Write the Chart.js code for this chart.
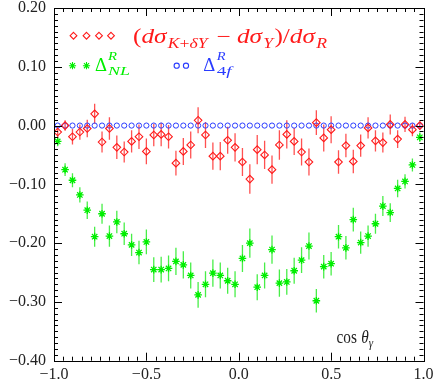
<!DOCTYPE html>
<html>
<head>
<meta charset="utf-8">
<script src="https://cdn.jsdelivr.net/npm/chart.js@4.4.0/dist/chart.umd.min.js"></script>
<style>
  html, body { margin: 0; padding: 0; background: #fff; }
  canvas { display: block; }
</style>
</head>
<body>
<canvas id="chart" width="436" height="382"></canvas>
<script>
// ==== Données
const cosBins = [
  -0.98, -0.94, -0.90, -0.86, -0.82, -0.78, -0.74, -0.70, -0.66, -0.62,
  -0.58, -0.54, -0.50, -0.46, -0.42, -0.38, -0.34, -0.30, -0.26, -0.22,
  -0.18, -0.14, -0.10, -0.06, -0.02, 0.02, 0.06, 0.10, 0.14, 0.18,
  0.22, 0.26, 0.30, 0.34, 0.38, 0.42, 0.46, 0.50, 0.54, 0.58,
  0.62, 0.66, 0.70, 0.74, 0.78, 0.82, 0.86, 0.90, 0.94, 0.98
];

// (dσ_{K+δY} − dσ_Y)/dσ_R
const ratioVals = [
  -0.011, 0.000, -0.019, -0.011, -0.005, 0.020, -0.028, -0.005, -0.037, -0.045,
  -0.027, -0.019, -0.044, -0.016, -0.015, -0.019, -0.064, -0.044, -0.033, 0.009,
  -0.016, -0.052, -0.052, -0.025, -0.037, -0.062, -0.091, -0.041, -0.050, -0.075,
  -0.033, -0.015, -0.027, -0.045, -0.062, 0.005, -0.021, -0.007, -0.062, -0.034,
  -0.061, -0.034, -0.004, -0.026, -0.029, 0.002, -0.023, 0.002, -0.007, 0.000
];
const ratioErr = [
  0.010, 0.009, 0.013, 0.013, 0.015, 0.017, 0.018, 0.019, 0.020, 0.018,
  0.019, 0.021, 0.022, 0.019, 0.020, 0.020, 0.021, 0.023, 0.023, 0.022,
  0.022, 0.023, 0.024, 0.023, 0.024, 0.024, 0.025, 0.025, 0.024, 0.024,
  0.025, 0.024, 0.023, 0.023, 0.023, 0.021, 0.023, 0.023, 0.020, 0.020,
  0.020, 0.019, 0.018, 0.018, 0.017, 0.017, 0.015, 0.013, 0.011, 0.007
];

// Δ^R_NL
const nlVals = [
  -0.027, -0.075, -0.093, -0.118, -0.144, -0.189, -0.150, -0.188, -0.164, -0.184,
  -0.203, -0.216, -0.198, -0.245, -0.245, -0.243, -0.231, -0.237, -0.255, -0.288,
  -0.270, -0.251, -0.255, -0.264, -0.270, -0.226, -0.200, -0.275, -0.255, -0.211,
  -0.268, -0.266, -0.247, -0.229, -0.205, -0.298, -0.240, -0.235, -0.189, -0.208,
  -0.160, -0.199, -0.188, -0.167, -0.137, -0.148, -0.107, -0.095, -0.067, -0.020
];
const nlErr = [
  0.008, 0.011, 0.012, 0.013, 0.015, 0.017, 0.017, 0.018, 0.019, 0.019,
  0.019, 0.020, 0.021, 0.021, 0.022, 0.022, 0.023, 0.023, 0.022, 0.022,
  0.022, 0.023, 0.022, 0.022, 0.022, 0.023, 0.025, 0.022, 0.022, 0.024,
  0.023, 0.022, 0.022, 0.022, 0.023, 0.020, 0.020, 0.020, 0.020, 0.020,
  0.020, 0.019, 0.018, 0.017, 0.017, 0.016, 0.015, 0.012, 0.011, 0.008
];

// Δ^R_4f
const fourFVals = [
  0, 0, 0, 0, 0, 0, 0, 0, 0, 0,
  0, 0, 0, 0, 0, 0, 0, 0, 0, 0,
  0, 0, 0, 0, 0, 0, 0, 0, 0, 0,
  0, 0, 0, 0, 0, 0, 0, 0, 0, 0,
  0, 0, 0, 0, 0, 0, 0, 0, 0, 0
];

const RED = "#ff1a1a";
const GREEN = "#00ee00";
const BLUE = "#2a3cff";
const FONT = "Liberation Serif";

// ==== Helpers
function fmt(v, d) {
  if (Math.abs(v) < 1e-9) v = 0;
  return (v < 0 ? "\u2212" : "") + Math.abs(v).toFixed(d);
}

function points(vals) {
  return cosBins.map((x, i) => ({ x: x, y: vals[i] }));
}

function setFont(ctx, p) {
  ctx.font = (p.it ? "italic " : "") + p.s + "px '" + FONT + "'";
}

// morceaux de texte (italique / indices), étirés pour tenir entre x0 et x1
function drawRuns(ctx, x0, x1, y, parts) {
  let w = 0;
  parts.forEach(p => { setFont(ctx, p); w += ctx.measureText(p.t).width + (p.sp || 0); });
  ctx.save();
  ctx.translate(x0, y);
  ctx.scale((x1 - x0) / w, 1);
  let x = 0;
  parts.forEach(p => {
    setFont(ctx, p);
    ctx.fillText(p.t, x, p.dy || 0);
    x += ctx.measureText(p.t).width + (p.sp || 0);
  });
  ctx.restore();
}

function marker(ctx, style, x, y, r, color) {
  ctx.save();
  ctx.strokeStyle = color;
  ctx.lineWidth = 1.1;
  ctx.beginPath();
  if (style === "diamond") {
    ctx.moveTo(x, y - r); ctx.lineTo(x + r, y); ctx.lineTo(x, y + r); ctx.lineTo(x - r, y); ctx.closePath();
  } else if (style === "circle") {
    ctx.arc(x, y, r, 0, Math.PI * 2);
  } else {
    for (let k = 0; k < 4; k++) {
      const a = k * Math.PI / 4;
      ctx.moveTo(x - r * Math.cos(a), y - r * Math.sin(a));
      ctx.lineTo(x + r * Math.cos(a), y + r * Math.sin(a));
    }
  }
  ctx.stroke();
  ctx.restore();
}

// ==== Plugins
const errorBars = {
  id: "errorBars",
  beforeDatasetsDraw(chart) {
    const { ctx, scales: { y } } = chart;
    chart.data.datasets.forEach((ds, i) => {
      if (!ds.err) return;
      const meta = chart.getDatasetMeta(i);
      ctx.save();
      ctx.strokeStyle = ds.errColor;
      ctx.lineWidth = 1.3;
      ctx.beginPath();
      meta.data.forEach((pt, j) => {
        const v = ds.data[j].y;
        ctx.moveTo(pt.x, y.getPixelForValue(v + ds.err[j]));
        ctx.lineTo(pt.x, y.getPixelForValue(v - ds.err[j]));
      });
      ctx.stroke();
      ctx.restore();
    });
  }
};

const frameTicks = {
  id: "frameTicks",
  afterDatasetsDraw(chart) {
    const { ctx, chartArea: a, scales: { x, y } } = chart;
    ctx.save();
    ctx.strokeStyle = "#000";
    ctx.lineWidth = 1;
    ctx.strokeRect(Math.round(a.left) + 0.5, Math.round(a.top) + 0.5,
      Math.round(a.right - a.left), Math.round(a.bottom - a.top));
    ctx.beginPath();
    for (let i = 0; i <= 40; i++) {
      const px = Math.round(x.getPixelForValue(-1 + i * 0.05)) + 0.5;
      const len = i % 10 === 0 ? 8 : 4;
      ctx.moveTo(px, a.bottom); ctx.lineTo(px, a.bottom - len);
      ctx.moveTo(px, a.top); ctx.lineTo(px, a.top + len);
    }
    for (let i = 0; i <= 60; i++) {
      const py = Math.round(y.getPixelForValue(-0.4 + i * 0.01)) + 0.5;
      const len = i % 10 === 0 ? 8 : 4;
      ctx.moveTo(a.left, py); ctx.lineTo(a.left + len, py);
      ctx.moveTo(a.right, py); ctx.lineTo(a.right - len, py);
    }
    ctx.stroke();
    ctx.restore();
  }
};

const labels = {
  id: "labels",
  afterDraw(chart) {
    const ctx = chart.ctx;
    ctx.save();
    ctx.textBaseline = "alphabetic";

    // ligne 1 : losanges rouges
    [73.5, 86.5, 99, 111].forEach(px => marker(ctx, "diamond", px, 35.7, 3.4, RED));
    ctx.fillStyle = RED;
    drawRuns(ctx, 133, 327, 42.7, [
      { t: "(", s: 20 },
      { t: "d\u03C3", s: 20, it: true, sp: 1 },
      { t: "K", s: 14, it: true, dy: 5.5 },
      { t: "+", s: 14, dy: 5.5 },
      { t: "\u03B4Y", s: 14, it: true, dy: 5.5, sp: 2 },
      { t: " \u2212 ", s: 20 },
      { t: "d\u03C3", s: 20, it: true, sp: 1 },
      { t: "Y", s: 14, it: true, dy: 5.5, sp: 1 },
      { t: ")/", s: 20 },
      { t: "d\u03C3", s: 20, it: true, sp: 1 },
      { t: "R", s: 14, it: true, dy: 5.5 }
    ]);

    // ligne 2 : étoiles vertes
    [72.5, 86.5].forEach(px => marker(ctx, "star", px, 65.7, 3.6, GREEN));
    ctx.fillStyle = GREEN;
    drawRuns(ctx, 95, 107, 70.7, [{ t: "\u0394", s: 18 }]);
    drawRuns(ctx, 108, 117, 60, [{ t: "R", s: 13, it: true }]);
    drawRuns(ctx, 108, 130, 74.5, [{ t: "NL", s: 13, it: true }]);

    // cercles bleus
    [176.7, 186].forEach(px => marker(ctx, "circle", px, 65.7, 2.6, BLUE));
    ctx.fillStyle = BLUE;
    drawRuns(ctx, 203.3, 215.3, 70.7, [{ t: "\u0394", s: 18 }]);
    drawRuns(ctx, 216.7, 225.5, 60, [{ t: "R", s: 13, it: true }]);
    drawRuns(ctx, 216.7, 231.5, 74.5, [{ t: "4", s: 13 }, { t: "f", s: 13, it: true }]);

    // titre de l'axe x
    ctx.fillStyle = "#222";
    drawRuns(ctx, 336.5, 373, 343.3, [
      { t: "cos", s: 18, sp: 5 },
      { t: "\u03B8", s: 18, it: true },
      { t: "\u03B3", s: 13, it: true, dy: 4 }
    ]);
    ctx.restore();
  }
};

// ==== Graphique
new Chart(document.getElementById("chart"), {
  type: "scatter",
  data: {
    datasets: [
      {
        label: "NL",
        data: points(nlVals),
        err: nlErr,
        errColor: "rgba(40,235,40,0.85)",
        pointStyle: "star",
        radius: 3.8,
        borderWidth: 1.3,
        borderColor: GREEN,
        backgroundColor: GREEN,
      },
      {
        label: "ratio",
        data: points(ratioVals),
        err: ratioErr,
        errColor: "rgba(255,50,50,0.85)",
        pointStyle: "rectRot",
        radius: 3.8,
        borderWidth: 1.1,
        borderColor: RED,
        backgroundColor: "rgba(0,0,0,0)",
      },
      {
        label: "4f",
        data: points(fourFVals),
        pointStyle: "circle",
        radius: 2.6,
        borderWidth: 1,
        borderColor: BLUE,
        backgroundColor: "rgba(0,0,0,0)",
      },
    ],
  },
  options: {
    responsive: false,
    animation: false,
    devicePixelRatio: 1,
    layout: { padding: { top: 8, right: 12.5, left: 0, bottom: 0 } },
    plugins: { legend: { display: false }, tooltip: { enabled: false } },
    scales: {
      x: {
        type: "linear",
        min: -1,
        max: 1,
        grid: { display: false, drawTicks: false },
        border: { display: false },
        ticks: {
          stepSize: 0.5,
          padding: 4,
          color: "#222",
          maxRotation: 0,
          autoSkip: false,
          font: { family: FONT, size: 16 },
          callback: v => fmt(v, 1),
        },
        afterFit(s) {
          s.height = 21.3;
          s.paddingLeft = 0;
          s.paddingRight = 0;
        },
      },
      y: {
        min: -0.4,
        max: 0.2,
        grid: { display: false, drawTicks: false },
        border: { display: false },
        ticks: {
          stepSize: 0.1,
          padding: 8,
          color: "#222",
          font: { family: FONT, size: 16 },
          callback: v => fmt(v, 2),
        },
        afterFit(s) {
          s.width = 54;
          s.paddingTop = 0;
          s.paddingBottom = 0;
        },
      },
    },
  },
  plugins: [errorBars, frameTicks, labels],
});
</script>
</body>
</html>
